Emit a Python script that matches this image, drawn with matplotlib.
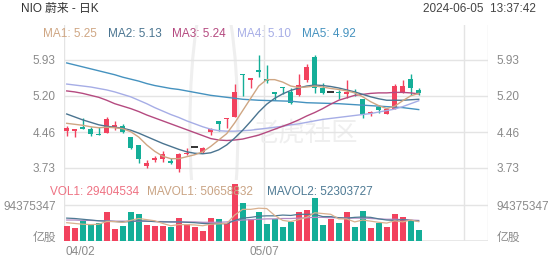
import matplotlib
matplotlib.use("Agg")
import matplotlib.pyplot as plt
from matplotlib.patches import Circle

plt.rcParams['font.family'] = ['Liberation Sans', 'Noto Sans CJK SC']

# ---------------- data ----------------
dates = ["04/02", "05/07"]
opens = [4.49, 4.49, 4.56, 4.52, 4.43, 4.45, 4.57, 4.58, 4.36, 4.19,
         3.78, 3.90, 3.92, 3.88, 3.71, 4.01, 4.15, 4.06, 4.46, 4.69,
         4.73, 4.77, 5.65, 5.53, 5.73, 5.54, 5.27, 5.38, 5.28, 5.21,
         5.53, 6.00, 5.36, 5.27, 5.26, 5.23, 5.26, 5.13, 4.85, 4.98,
         4.83, 4.94, 5.26, 5.54, 5.31]
highs = [4.585, 4.53, 4.74, 4.56, 4.56, 4.77, 4.69, 4.62, 4.37, 4.19,
         3.90, 3.98, 4.08, 3.93, 4.03, 4.13, 4.15, 4.15, 4.54, 4.69,
         4.74, 5.44, 5.65, 5.57, 6.04, 5.82, 5.28, 5.38, 5.35, 5.65,
         5.84, 6.04, 5.46, 5.27, 5.31, 5.53, 5.33, 5.13, 4.90, 5.01,
         4.96, 5.44, 5.52, 5.64, 5.36]
lows = [4.39, 4.37, 4.52, 4.38, 4.40, 4.44, 4.50, 4.45, 4.11, 3.84,
        3.74, 3.86, 3.85, 3.81, 3.64, 4.00, 4.15, 4.04, 4.41, 4.49,
        4.54, 4.76, 5.19, 5.35, 5.59, 5.46, 5.11, 5.23, 5.04, 5.19,
        5.48, 5.25, 5.23, 5.27, 5.13, 5.15, 5.19, 4.75, 4.79, 4.86,
        4.83, 4.94, 5.25, 5.21, 5.22]
closes = [4.55, 4.52, 4.52, 4.42, 4.40, 4.72, 4.60, 4.47, 4.13, 3.91,
          3.83, 3.94, 4.02, 3.83, 4.02, 4.03, 4.15, 4.13, 4.52, 4.62,
          4.74, 5.27, 5.63, 5.57, 5.69, 5.51, 5.23, 5.35, 5.06, 5.42,
          5.79, 5.35, 5.25, 5.27, 5.25, 5.28, 5.25, 4.84, 4.86, 4.91,
          4.93, 5.40, 5.40, 5.35, 5.25]
ma1 = [4.64, 4.62, 4.60, 4.57, 4.55, 4.56, 4.55, 4.53, 4.47, 4.36,
       4.20, 4.07, 3.97, 3.92, 3.92, 3.96, 4.00, 4.06, 4.17, 4.30,
       4.43, 4.65, 4.90, 5.15, 5.40, 5.53, 5.53, 5.48, 5.40, 5.37,
       5.38, 5.40, 5.38, 5.35, 5.33, 5.30, 5.26, 5.18, 5.08, 5.00,
       4.94, 4.99, 5.10, 5.20, 5.25]
ma2 = [4.83, 4.77, 4.71, 4.66, 4.61, 4.58, 4.56, 4.54, 4.50, 4.44,
       4.37, 4.30, 4.23, 4.17, 4.11, 4.06, 4.03, 4.02, 4.04, 4.10,
       4.20, 4.34, 4.50, 4.68, 4.87, 5.03, 5.15, 5.24, 5.31, 5.36,
       5.40, 5.42, 5.41, 5.39, 5.36, 5.32, 5.28, 5.23, 5.18, 5.14,
       5.11, 5.11, 5.11, 5.12, 5.13]
ma3 = [5.30, 5.28, 5.25, 5.21, 5.17, 5.11, 5.04, 4.99, 4.94, 4.88,
       4.81, 4.75, 4.69, 4.63, 4.57, 4.51, 4.45, 4.39, 4.33, 4.30,
       4.29, 4.30, 4.32, 4.36, 4.40, 4.46, 4.52, 4.58, 4.64, 4.71,
       4.79, 4.86, 4.94, 5.03, 5.11, 5.16, 5.21, 5.23, 5.25, 5.26,
       5.26, 5.27, 5.27, 5.26, 5.24]
ma4 = [5.44, 5.42, 5.40, 5.38, 5.35, 5.32, 5.28, 5.23, 5.18, 5.11,
       5.04, 4.96, 4.89, 4.82, 4.76, 4.69, 4.63, 4.57, 4.52, 4.49,
       4.48, 4.48, 4.49, 4.50, 4.52, 4.54, 4.56, 4.58, 4.61, 4.63,
       4.66, 4.69, 4.72, 4.74, 4.76, 4.78, 4.80, 4.82, 4.84, 4.87,
       4.90, 4.93, 4.98, 5.04, 5.10]
ma5 = [5.87, 5.83, 5.79, 5.75, 5.71, 5.67, 5.63, 5.58, 5.54, 5.50,
       5.45, 5.41, 5.38, 5.35, 5.33, 5.30, 5.27, 5.24, 5.21, 5.19,
       5.17, 5.15, 5.13, 5.12, 5.11, 5.105, 5.10, 5.095, 5.09, 5.075,
       5.06, 5.055, 5.05, 5.045, 5.04, 5.03, 5.02, 5.01, 5.00, 4.99,
       4.98, 4.97, 4.96, 4.94, 4.92]
volumes = [39.3, 33.3, 53.2, 43.8, 48.0, 76.8, 32.2, 39.3, 75.2, 70.8,
           41.9, 39.3, 39.3, 35.9, 60.3, 43.8, 35.9, 27.0, 59.5, 56.9,
           48.0, 149.4, 100.4, 56.9, 76.0, 44.6, 56.9, 35.9, 49.0, 76.8,
           81.3, 111.9, 41.9, 58.5, 48.0, 76.0, 36.7, 79.4, 33.3, 46.4,
           37.5, 70.8, 62.9, 55.1, 29.4]  # millions
mavol1 = [48, 46, 44, 43, 44, 51, 51, 49, 54, 59,
          56, 53, 46, 40, 43, 43, 42, 40, 44, 45,
          46, 68, 83, 83, 86, 85, 67, 54, 51, 56,
          62, 74, 72, 70, 58, 58, 50, 55, 52, 49,
          47, 53, 50, 55, 50.66]
mavol2 = [60, 59, 57, 55, 53, 52, 51, 50, 51, 53,
          52, 51, 50, 50, 50, 49, 48, 46, 45, 46,
          45, 54, 60, 62, 65, 66, 66, 68, 67, 70,
          70, 70, 64, 64, 61, 60, 62, 63, 62, 58,
          55, 54, 56, 54, 52.3]
mavol3 = [55, 55, 54, 54, 53, 53, 52, 52, 52, 52,
          52, 51, 51, 50, 50, 50, 50, 49, 49, 49,
          50, 53, 55, 56, 57, 58, 58, 59, 59, 60,
          61, 62, 62, 61, 61, 60, 60, 60, 59, 58,
          57, 57, 56, 55, 54]
price_ticks = [3.73, 4.46, 5.20, 5.93]
vol_tick = 94375347

# ---------------- style ----------------
W, H = 552, 265
RED = "#F2425E"
GREEN = "#14AE98"
GRID = "#E4E4E4"
TXT = "#8A8A8A"
C_MA = ["#CFA683", "#4A7490", "#B54A80", "#A6ADE6", "#4592BF"]
FS = 8.5

def fx(px):
    return px / W

def fy(py):
    return 1 - py / H

fig = plt.figure(figsize=(W / 100, H / 100), dpi=100)
fig.patch.set_facecolor("white")

ax = fig.add_axes([fx(64), fy(180), 424 / W, 155 / H])
axv = fig.add_axes([fx(64), fy(241), 424 / W, 61 / H])

n = len(closes)
xs = list(range(n))
xl = (-0.34, 52.66)
ppu = 49.09
ylo = 5.93 - 120 / ppu
yhi = 5.93 + 35 / ppu

for a in (ax, axv):
    a.set_xlim(*xl)
    a.set_facecolor("none")
    for s in a.spines.values():
        s.set_visible(False)
    a.set_xticks([])
    for xv in (xl[0], 24.66, 49.66, xl[1]):
        a.axvline(xv, color=GRID, lw=1, zorder=0)

# watermark
ax.add_patch(Circle((18.4, 5.20 - 32 / ppu), radius=3.0, transform=ax.transData,
                    fill=False, ec="#EFEFEF", lw=2.2, zorder=0))
ax.text(29.8, 5.20 - 37 / ppu, "老虎社区", fontsize=19, color="#EFEFEF",
        ha="center", va="center", style="italic", zorder=0)

# price grid
ax.set_ylim(ylo, yhi)
for t in price_ticks:
    ax.axhline(t, color=GRID, lw=1, zorder=0)
ax.set_yticks(price_ticks)
ax.set_yticklabels([f"{t:.2f}" for t in price_ticks])
ax.tick_params(axis="y", length=0, labelleft=True, labelright=True,
               labelsize=FS, labelcolor=TXT, pad=6)

# candles
bw = 0.68
for i in xs:
    o, h, l, c = opens[i], highs[i], lows[i], closes[i]
    if c == o:
        ax.hlines(c, i - 0.45, i + 0.45, color="#111111", lw=1.2, zorder=3)
        continue
    col = RED if c > o else GREEN
    ax.vlines(i, l, h, color=col, lw=1.0, zorder=2)
    hgt = max(abs(c - o), 0.02)
    ax.bar(i, hgt, bottom=min(o, c), width=bw, color=col, lw=0, zorder=2)

# MA lines
for vals, col in zip([ma5, ma4, ma3, ma2, ma1], C_MA[::-1]):
    ax.plot(xs, vals, color=col, lw=1.0, zorder=4)

# volume
vscale = vol_tick / 36.0
axv.set_ylim(0, 61 * vscale / 1e6)
axv.axhline(vol_tick / 1e6, color=GRID, lw=1, zorder=0)
axv.axhline(0, color=GRID, lw=1.2, zorder=0)
vcols = [RED if closes[i] >= opens[i] else GREEN for i in xs]
axv.bar(xs, volumes, width=0.75, color=vcols, lw=0, zorder=2)
axv.plot(xs, mavol3, color="#B58BC4", lw=0.9, zorder=3)
axv.plot(xs, mavol2, color="#4E7A94", lw=0.9, zorder=3)
axv.plot(xs, mavol1, color="#D9B08E", lw=0.9, zorder=3)
axv.set_yticks([vol_tick / 1e6, 5 * vscale / 1e6])
axv.set_yticklabels([str(vol_tick), "亿股"])
axv.tick_params(axis="y", length=0, labelleft=True, labelright=True,
                labelsize=FS, labelcolor=TXT, pad=6)

# texts
fig.text(fx(20.7), fy(9), "NIO 蔚来 - 日K", fontsize=FS, color="#333333",
         ha="left", va="center")
fig.text(fx(536), fy(9), "2024-06-05  13:37:42", fontsize=FS, color="#444444",
         ha="right", va="center")
ma_labels = ["MA1: 5.25", "MA2: 5.13", "MA3: 5.24", "MA4: 5.10", "MA5: 4.92"]
ma_x = [43, 108, 172, 237, 302]
for lab, xp, col in zip(ma_labels, ma_x, C_MA):
    fig.text(fx(xp), fy(34), lab, fontsize=FS, color=col, ha="left", va="center")

vol_labels = ["VOL1: 29404534", "MAVOL1: 50658832", "MAVOL2: 52303727"]
vol_x = [50, 147, 267]
vol_c = ["#EE7182", "#C9A383", "#4E7A94"]
for lab, xp, col in zip(vol_labels, vol_x, vol_c):
    fig.text(fx(xp), fy(192), lab, fontsize=FS, color=col, ha="left", va="center")

fig.text(fx(65), fy(252), dates[0], fontsize=FS, color=TXT, ha="left", va="center")
fig.text(fx(264), fy(252), dates[1], fontsize=FS, color=TXT, ha="center", va="center")

fig.savefig("out.png", dpi=100, facecolor="white")
